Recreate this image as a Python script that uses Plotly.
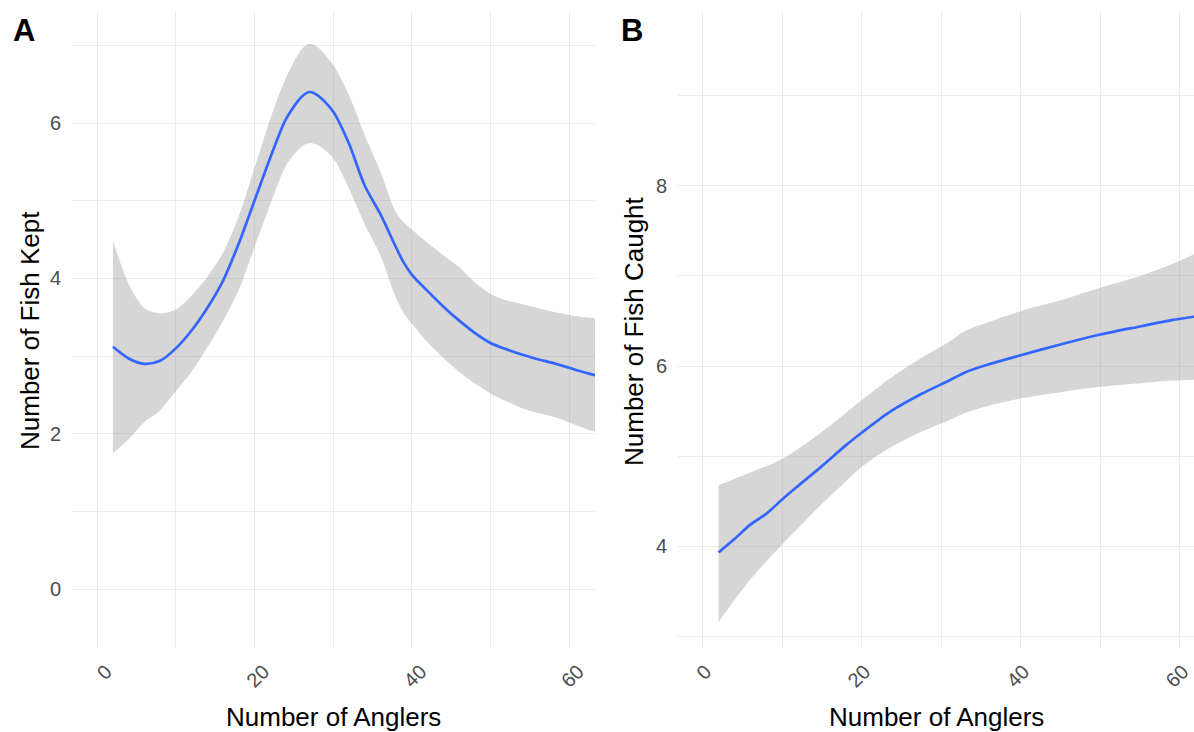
import plotly.graph_objects as go

# ---------------- data ----------------
# Panel A: Number of Fish Kept vs Number of Anglers (smoothed fit + CI)
a_x = [2, 4, 6, 8, 10, 12, 14, 16, 18, 20, 22, 24, 26, 27, 28, 30, 32, 34, 36, 38, 39, 40,
       42, 44, 46, 48, 50, 52, 54, 56, 58, 60, 62, 63.5]
a_fit = [3.12, 2.97, 2.90, 2.94, 3.10, 3.33, 3.62, 3.97, 4.45, 5.00, 5.55, 6.05, 6.34, 6.40, 6.36,
         6.15, 5.74, 5.20, 4.83, 4.40, 4.20, 4.05, 3.84, 3.64, 3.46, 3.30, 3.17, 3.09, 3.02, 2.96,
         2.91, 2.85, 2.79, 2.75]
a_upper = [4.49, 3.93, 3.62, 3.55, 3.60, 3.78, 4.02, 4.33, 4.80, 5.42, 6.05, 6.58, 6.95, 7.02, 6.98,
           6.75, 6.36, 5.85, 5.38, 4.85, 4.72, 4.63, 4.46, 4.30, 4.15, 3.95, 3.80, 3.72, 3.67, 3.62,
           3.57, 3.53, 3.50, 3.49]
a_lower = [1.75, 1.93, 2.15, 2.30, 2.55, 2.80, 3.11, 3.45, 3.85, 4.40, 4.95, 5.45, 5.70, 5.74, 5.72,
           5.55, 5.16, 4.70, 4.30, 3.75, 3.55, 3.42, 3.18, 2.98, 2.80, 2.65, 2.52, 2.42, 2.33, 2.27,
           2.22, 2.15, 2.07, 2.02]

# Panel B: Number of Fish Caught vs Number of Anglers
b_x = [2, 4, 6, 8, 10, 12, 15, 18, 20, 23.5, 27.5, 31, 33, 36, 40, 45, 50, 55, 59, 62]
b_fit = [3.93, 4.08, 4.24, 4.36, 4.52, 4.67, 4.89, 5.12, 5.26, 5.49, 5.69, 5.84, 5.93, 6.02, 6.12,
         6.24, 6.35, 6.44, 6.51, 6.55]
b_upper = [4.68, 4.75, 4.82, 4.89, 4.97, 5.08, 5.27, 5.48, 5.62, 5.86, 6.09, 6.27, 6.39, 6.49, 6.61,
           6.73, 6.87, 7.00, 7.13, 7.25]
b_lower = [3.16, 3.40, 3.63, 3.83, 4.02, 4.20, 4.47, 4.72, 4.88, 5.09, 5.27, 5.40, 5.48, 5.56, 5.64,
           5.71, 5.77, 5.81, 5.84, 5.85]

x_tickvals = [0, 20, 40, 60]
x_ticktext = ["0", "20", "40", "60"]
x_title = "Number of Anglers"
a_ytitle = "Number of Fish Kept"
b_ytitle = "Number of Fish Caught"
panel_labels = ["A", "B"]

# ---------------- styling ----------------
W, H = 1194, 732
FONT = "Liberation Sans, Arial, sans-serif"
LINE_COLOR = "#3366FF"
BAND_COLOR = "rgba(153,153,153,0.4)"
GRID = "#EBEBEB"
TICKCOL = "#4D4D4D"

def px_x(p):
    return p / W

def px_y(p):
    return 1 - p / H

fig = go.Figure()

def add_panel(xs, fit, lo, hi, xa, ya):
    fig.add_trace(go.Scatter(x=xs, y=lo, mode="lines",
                             line=dict(width=0, color=BAND_COLOR, shape="spline", smoothing=0.8),
                             xaxis=xa, yaxis=ya, showlegend=False, hoverinfo="skip"))
    fig.add_trace(go.Scatter(x=xs, y=hi, mode="lines",
                             line=dict(width=0, color=BAND_COLOR, shape="spline", smoothing=0.8),
                             fill="tonexty", fillcolor=BAND_COLOR,
                             xaxis=xa, yaxis=ya, showlegend=False, hoverinfo="skip"))
    fig.add_trace(go.Scatter(x=xs, y=fit, mode="lines",
                             line=dict(width=2.7, color=LINE_COLOR, shape="spline", smoothing=0.8),
                             xaxis=xa, yaxis=ya, showlegend=False))

add_panel(a_x, a_fit, a_lower, a_upper, "x", "y")
add_panel(b_x, b_fit, b_lower, b_upper, "x2", "y2")

ydom = [px_y(649), px_y(12)]

def xaxis_cfg(dom, rng, shift):
    return dict(domain=dom, range=rng, tickvals=x_tickvals, ticktext=x_ticktext, tickangle=-45,
                showgrid=True, gridcolor=GRID, gridwidth=1.4, zeroline=False, showline=False,
                ticks="", tickfont=dict(family=FONT, size=20, color=TICKCOL),
                minor=dict(tickvals=[10, 30, 50], showgrid=True, gridcolor=GRID, gridwidth=1.1),
                automargin=False, fixedrange=True, ticklabelstandoff=6, ticklabelshift=shift,
                ticklabeloverflow="allow")

def yaxis_cfg(anchor, rng, tv, minor_tv):
    return dict(domain=ydom, range=rng, anchor=anchor, tickvals=tv, ticktext=[str(v) for v in tv],
                showgrid=True, gridcolor=GRID, gridwidth=1.4, zeroline=False, showline=False,
                ticks="", tickfont=dict(family=FONT, size=20, color=TICKCOL),
                minor=dict(tickvals=minor_tv, showgrid=True, gridcolor=GRID, gridwidth=1.1),
                automargin=False, fixedrange=True, ticklabelstandoff=10)

fig.update_layout(
    width=W, height=H,
    margin=dict(l=0, r=0, t=0, b=0),
    paper_bgcolor="white", plot_bgcolor="white",
    showlegend=False,
    xaxis=xaxis_cfg([px_x(72), px_x(595)], [-3.2, 63.3], 9),
    yaxis=yaxis_cfg("x", [-0.77, 7.43], [0, 2, 4, 6], [1, 3, 5, 7]),
    xaxis2=dict(xaxis_cfg([px_x(678), 1.0], [-3.1, 61.8], 3), anchor="y2"),
    yaxis2=yaxis_cfg("x2", [2.86, 9.93], [4, 6, 8], [3, 5, 7, 9]),
)
fig.layout.xaxis.anchor = "y"

ann = []
# axis titles
for cx in [333, 936]:
    ann.append(dict(text=x_title, x=px_x(cx), y=px_y(717), xref="paper", yref="paper",
                    showarrow=False, xanchor="center", yanchor="middle",
                    font=dict(family=FONT, size=26, color="black")))
ann.append(dict(text=a_ytitle, x=px_x(30), y=px_y(331), xref="paper", yref="paper", textangle=-90,
                showarrow=False, xanchor="center", yanchor="middle",
                font=dict(family=FONT, size=26, color="black")))
ann.append(dict(text=b_ytitle, x=px_x(634), y=px_y(331), xref="paper", yref="paper", textangle=-90,
                showarrow=False, xanchor="center", yanchor="middle",
                font=dict(family=FONT, size=26, color="black")))
# panel labels
for lab, lx in zip(panel_labels, [24, 632]):
    ann.append(dict(text="<b>%s</b>" % lab, x=px_x(lx), y=px_y(30), xref="paper", yref="paper",
                    showarrow=False, xanchor="center", yanchor="middle",
                    font=dict(family=FONT, size=31, color="black")))
fig.update_layout(annotations=ann)

fig.write_html("out.html")
